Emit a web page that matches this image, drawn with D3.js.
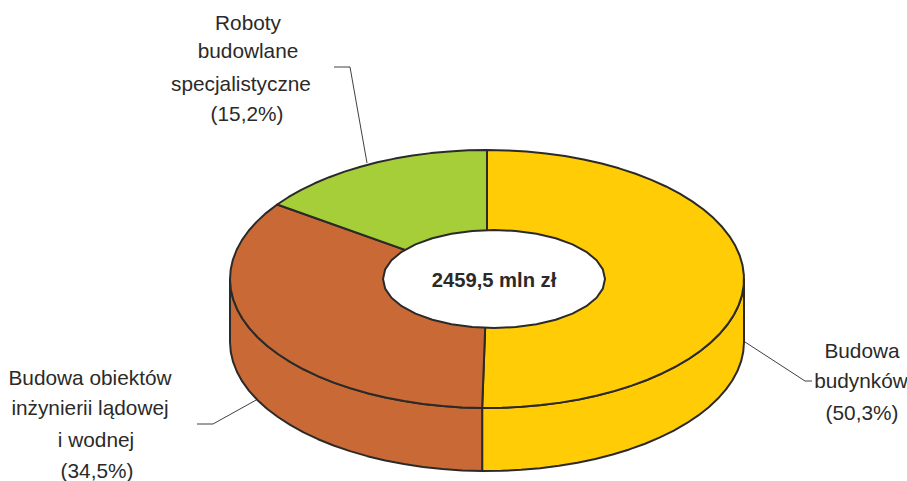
<!DOCTYPE html>
<html>
<head>
<meta charset="utf-8">
<script src="https://cdn.jsdelivr.net/npm/d3@7"></script>
<style>
  body { margin: 0; background: #fff; }
  svg { display: block; }
  text { font-family: "Liberation Sans", Arial, sans-serif; fill: #2b2a29; }
</style>
</head>
<body>
<svg width="907" height="481"></svg>
<script>
const sectors = ["Budowa budynków", "Budowa obiektów inżynierii lądowej i wodnej", "Roboty budowlane specjalistyczne"];
const shares = [50.3, 34.5, 15.2];
const colors = ["#ffcc05", "#c96a36", "#a6ce39"];
const total = "2459,5 mln zł";

const labelLines = [
  ["Budowa", "budynków", "(50,3%)"],
  ["Budowa obiektów", "inżynierii lądowej", "i wodnej", "(34,5%)"],
  ["Roboty", "budowlane", "specjalistyczne", "(15,2%)"]
];
const labelCenters = [[862, 861, 862], [90, 90, 96, 97], [248, 248, 241, 247]];
const labelBaselines = [[358, 388, 420], [385, 415, 447, 478], [30, 58, 91, 121]];
const leaders = [
  [[745, 342], [805, 381], [812, 381]],
  [[258, 399], [213, 424], [197, 424]],
  [[367, 163], [350, 67], [334, 67]]
];

const svg = d3.select("svg");

// unit circle -> squashed ellipse of the top face
const px = d3.scaleLinear().domain([-1, 1]).range([230, 744]);
const py = d3.scaleLinear().domain([-1, 1]).range([150, 408]);
const holeX = d3.scaleLinear().domain([-1, 1]).range([383, 605]);
const holeY = d3.scaleLinear().domain([-1, 1]).range([230, 328]);
const depth = 63;
const step = Math.PI / 40;

const pie = d3.pie().sort(null).value(d => d);
const arcs = pie(shares);

const line = d3.line().curve(d3.curveLinear);

function rim(a0, a1, dy) {
  const n = Math.max(1, Math.ceil((a1 - a0) / step));
  return d3.range(n + 1).map(i => {
    const a = a0 + (a1 - a0) * i / n;
    return [px(Math.sin(a)), py(-Math.cos(a)) + dy];
  });
}

const stroke = "#2b2a29";

// outer wall, only the front half is visible
arcs.forEach((d, i) => {
  const a0 = Math.max(d.startAngle, Math.PI / 2);
  const a1 = Math.min(d.endAngle, Math.PI * 1.5);
  if (a1 <= a0) return;
  const pts = rim(a0, a1, 0).concat(rim(a0, a1, depth).reverse());
  svg.append("path")
    .attr("d", line(pts) + "Z")
    .attr("fill", colors[i])
    .attr("stroke", stroke)
    .attr("stroke-width", 2)
    .attr("stroke-linejoin", "round");
});

// top face
arcs.forEach((d, i) => {
  const pts = [[px(0), py(0)]].concat(rim(d.startAngle, d.endAngle, 0));
  svg.append("path")
    .attr("d", line(pts) + "Z")
    .attr("fill", colors[i])
    .attr("stroke", stroke)
    .attr("stroke-width", 2)
    .attr("stroke-linejoin", "round");
});

// hole
const holePts = d3.range(0, 2 * Math.PI, Math.PI / 16)
  .map(a => [holeX(Math.sin(a)), holeY(-Math.cos(a))]);
svg.append("path")
  .attr("d", line(holePts) + "Z")
  .attr("fill", "#fff")
  .attr("stroke", stroke)
  .attr("stroke-width", 2)
  .attr("stroke-linejoin", "round");

svg.append("text")
  .attr("x", 494)
  .attr("y", 287)
  .attr("text-anchor", "middle")
  .style("font-size", "20.2px")
  .style("font-weight", "bold")
  .text(total);

// leader lines
leaders.forEach(pts => {
  svg.append("path")
    .attr("d", line(pts))
    .attr("fill", "none")
    .attr("stroke", stroke)
    .attr("stroke-width", 0.9);
});

// labels
labelLines.forEach((lines, i) => {
  lines.forEach((t, j) => {
    svg.append("text")
      .attr("x", labelCenters[i][j])
      .attr("y", labelBaselines[i][j])
      .attr("text-anchor", "middle")
      .style("font-size", "20.8px")
      .text(t);
  });
});
</script>
</body>
</html>
